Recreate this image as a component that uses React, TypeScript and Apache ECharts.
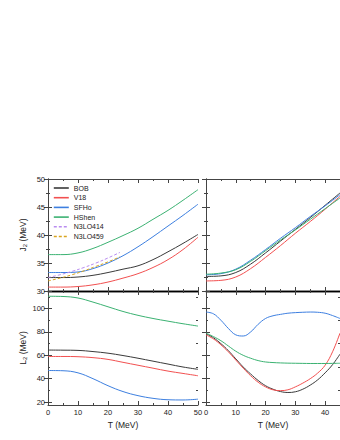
import React, { useEffect, useRef } from "react";
import * as echarts from "echarts";

// ---------- data ----------
const tLeft = [0, 5, 10, 15, 20, 25, 30, 35, 40, 45, 50];
const tRightTop = [0, 5, 10, 15, 20, 25, 30, 35, 40, 45];
const tRightBottom = [0, 2.5, 5, 7.5, 10, 12.5, 15, 17.5, 20, 22.5, 25, 27.5, 30, 32.5, 35, 37.5, 40, 42.5, 45];
const tN3LO = [0, 4, 8, 12, 16, 20, 24];

const bobJ2 = [32.4, 32.4, 32.5, 32.8, 33.3, 33.9, 34.5, 35.6, 37.0, 38.5, 40.1];
const v18J2 = [30.7, 30.7, 30.8, 31.1, 31.6, 32.3, 33.1, 34.2, 35.6, 37.4, 39.6];
const sfhoJ2 = [33.3, 33.3, 33.4, 34.0, 35.0, 36.3, 37.9, 39.7, 41.6, 43.5, 45.5];
const hshenJ2 = [36.5, 36.5, 36.8, 37.6, 38.7, 39.9, 41.2, 42.8, 44.4, 46.2, 48.1];
const n3lo414J2 = [32.4, 32.9, 33.5, 34.2, 35.0, 35.9, 36.9];
const n3lo459J2 = [31.8, 32.3, 32.9, 33.6, 34.4, 35.2, 36.1];

const bobJ2R = [32.6, 32.7, 33.3, 34.8, 36.8, 38.9, 41.0, 43.1, 45.3, 47.5];
const v18J2R = [31.8, 31.9, 32.5, 34.0, 36.0, 38.1, 40.3, 42.4, 44.6, 46.9];
const sfhoJ2R = [32.9, 33.1, 33.9, 35.5, 37.4, 39.4, 41.3, 43.3, 45.2, 47.2];
const hshenJ2R = [33.0, 33.2, 33.8, 35.3, 37.2, 39.1, 40.9, 42.8, 44.7, 46.6];

const bobL2 = [64.5, 64.4, 64.2, 63.2, 61.8, 59.8, 57.5, 55, 52.5, 50, 48];
const v18L2 = [59, 59, 58.8, 58, 56.5, 54, 51.5, 49, 46.5, 44.5, 42.5];
const sfhoL2 = [47, 46.8, 45, 40, 34, 29, 25.5, 23.2, 22, 21.8, 22.5];
const hshenL2 = [110.5, 110.3, 109, 105.5, 101.5, 97.5, 94.2, 91.5, 89.2, 87, 85];

const bobL2R = [78.5, 75, 70, 64, 57, 50, 44, 38.5, 34, 31, 29, 28.2, 28.8, 31, 34.5, 39, 45, 52, 61];
const v18L2R = [77.5, 74, 69, 63, 56, 49, 42.5, 37, 33, 30.5, 29.8, 30.5, 33, 36.2, 40, 44.8, 51.5, 63, 79];
const sfhoL2R = [97, 95.5, 90, 83, 77.5, 76.5, 80, 86.5, 91.5, 93.8, 95, 96, 96.5, 96.8, 97, 96.8, 96, 94, 91.5];
const hshenL2R = [79, 76, 72.5, 68, 63.5, 60, 57.5, 55.5, 54.3, 53.8, 53.5, 53.3, 53.2, 53.1, 53, 53, 53, 53.1, 53.2];

const j2Labels = [30, 35, 40, 45, 50];
const l2Labels = [20, 40, 60, 80, 100];
const l2Minor = [30, 50, 70, 90, 110];

const names = ["BOB", "V18", "SFHo", "HShen", "N3LO414", "N3LO459"];
const colors: Record<string, string> = {
  BOB: "#3a3a3a",
  V18: "#f25050",
  SFHo: "#3d7fe0",
  HShen: "#3bb272",
  N3LO414: "#b98cf0",
  N3LO459: "#d9a520",
};

const zip = (xs: number[], ys: number[]) => xs.map((x, i) => [x, ys[i]]);

export default function App() {
  const ref = useRef<HTMLDivElement>(null);
  useEffect(() => {
    if (!ref.current) return;
    const chart = echarts.init(ref.current, undefined, { renderer: "svg" });
    const FONT = "Liberation Sans, Arial, sans-serif";
    const frameColor = "#444";
    const grids = [
      { left: 48, top: 179, width: 150, height: 112 },
      { left: 206, top: 179, width: 135, height: 112 },
      { left: 48, top: 291, width: 150, height: 114 },
      { left: 206, top: 291, width: 135, height: 114 },
    ];
    const xAxes: any[] = [];
    for (let i = 0; i < 4; i++) {
      const isBottomRow = i >= 2;
      xAxes.push({
        type: "value",
        gridIndex: i,
        min: 0,
        max: i % 2 ? 45 : 50,
        interval: 10,
        position: "bottom",
        axisLine: { show: true, lineStyle: { color: isBottomRow ? frameColor : "#000", width: isBottomRow ? 1 : 1.4 } },
        axisTick: { show: true, inside: true, length: 4, lineStyle: { color: frameColor } },
        minorTick: { show: true, splitNumber: 2, length: 2, lineStyle: { color: frameColor } },
        splitLine: { show: false },
        axisLabel: { show: isBottomRow, fontSize: 7.5, color: "#222", margin: 3, fontFamily: FONT, showMaxLabel: i % 2 ? false : true },
        name: isBottomRow ? "T (MeV)" : "",
        nameLocation: "middle",
        nameGap: 15,
        nameTextStyle: { fontSize: 8.5, color: "#222", fontFamily: FONT },
      });
    }
    for (let i = 0; i < 4; i++) {
      xAxes.push({
        type: "value",
        gridIndex: i,
        min: 0,
        max: i % 2 ? 45 : 50,
        interval: 10,
        position: "top",
        axisLine: { show: true, lineStyle: { color: i >= 2 ? "#000" : frameColor, width: i >= 2 ? 1.4 : 1 } },
        axisTick: { show: true, inside: true, length: 4, lineStyle: { color: frameColor } },
        minorTick: { show: true, splitNumber: 2, length: 2, lineStyle: { color: frameColor } },
        splitLine: { show: false },
        axisLabel: { show: false },
      });
    }
    const yAxes: any[] = [];
    const sub = { sub: { fontSize: 6, verticalAlign: "bottom", padding: [5, 0, 0, 0], fontFamily: FONT, color: "#222" } };
    const mkY = (i: number, pos: string, showLabels: boolean) => {
      const top = i < 2;
      const base: any = {
        type: "value",
        gridIndex: i,
        position: pos,
        axisLine: { show: true, lineStyle: { color: frameColor, width: 1 } },
        splitLine: { show: false },
      };
      if (top) {
        Object.assign(base, {
          min: 30,
          max: 50,
          interval: 5,
          axisTick: { show: true, inside: true, length: 4, lineStyle: { color: frameColor } },
          minorTick: { show: true, splitNumber: 2, length: 2, lineStyle: { color: frameColor } },
          axisLabel: { show: showLabels, fontSize: 7.5, color: "#222", margin: 3, fontFamily: FONT, customValues: j2Labels },
        });
      } else {
        Object.assign(base, {
          min: 17.5,
          max: 115,
          axisTick: { show: true, inside: true, length: 4, lineStyle: { color: frameColor }, customValues: l2Labels },
          axisLabel: { show: showLabels, fontSize: 7.5, color: "#222", margin: 3, fontFamily: FONT, customValues: l2Labels },
        });
      }
      if (showLabels) {
        base.name = top ? "J{sub|2} (MeV)" : "L{sub|2} (MeV)";
        base.nameLocation = "middle";
        base.nameGap = 20;
        base.nameRotate = 90;
        base.nameTextStyle = { fontSize: 8.5, color: "#222", fontFamily: FONT, rich: sub };
      }
      return base;
    };
    yAxes.push(mkY(0, "left", true));
    yAxes.push(mkY(1, "left", false));
    yAxes.push(mkY(2, "left", true));
    yAxes.push(mkY(3, "left", false));
    for (let i = 0; i < 4; i++) yAxes.push(mkY(i, "right", false));
    for (const [gi, pos] of [[2, "left"], [3, "left"], [2, "right"], [3, "right"]] as any[]) {
      yAxes.push({
        type: "value",
        gridIndex: gi,
        position: pos,
        min: 17.5,
        max: 115,
        axisLine: { show: false },
        splitLine: { show: false },
        axisLabel: { show: false },
        axisTick: { show: true, inside: true, length: 2, lineStyle: { color: frameColor }, customValues: l2Minor },
      });
    }

    const line = (name: string, xi: number, data: number[][], dashed = false) => ({
      type: "line",
      name,
      xAxisIndex: xi,
      yAxisIndex: xi,
      data,
      smooth: 0.4,
      symbol: "none",
      showSymbol: false,
      lineStyle: { color: colors[name], width: 1, type: dashed ? [3, 2] : "solid" },
      itemStyle: { color: colors[name] },
      z: 3,
    });

    const series = [
      line("BOB", 0, zip(tLeft, bobJ2)),
      line("V18", 0, zip(tLeft, v18J2)),
      line("SFHo", 0, zip(tLeft, sfhoJ2)),
      line("HShen", 0, zip(tLeft, hshenJ2)),
      line("N3LO414", 0, zip(tN3LO, n3lo414J2), true),
      line("N3LO459", 0, zip(tN3LO, n3lo459J2), true),
      line("BOB", 1, zip(tRightTop, bobJ2R)),
      line("V18", 1, zip(tRightTop, v18J2R)),
      line("SFHo", 1, zip(tRightTop, sfhoJ2R)),
      line("HShen", 1, zip(tRightTop, hshenJ2R)),
      line("BOB", 2, zip(tLeft, bobL2)),
      line("V18", 2, zip(tLeft, v18L2)),
      line("SFHo", 2, zip(tLeft, sfhoL2)),
      line("HShen", 2, zip(tLeft, hshenL2)),
      line("BOB", 3, zip(tRightBottom, bobL2R)),
      line("V18", 3, zip(tRightBottom, v18L2R)),
      line("SFHo", 3, zip(tRightBottom, sfhoL2R)),
      line("HShen", 3, zip(tRightBottom, hshenL2R)),
    ];

    chart.setOption({
      animation: false,
      backgroundColor: "#fff",
      textStyle: { fontFamily: FONT },
      grid: grids,
      xAxis: xAxes,
      yAxis: yAxes,
      legend: {
        data: names,
        orient: "vertical",
        left: 53,
        top: 184,
        padding: 0,
        itemWidth: 15,
        itemHeight: 8,
        itemGap: 1.7,
        itemStyle: { opacity: 0 },
        lineStyle: { width: 1.6 },
        textStyle: { fontSize: 7, color: "#222", fontFamily: FONT, lineHeight: 8 },
        selectedMode: false,
      },
      series,
    });
    return () => chart.dispose();
  }, []);
  return <div ref={ref} style={{ position: "fixed", left: 0, top: 0, width: 340, height: 440, background: "#fff" }} />;
}
